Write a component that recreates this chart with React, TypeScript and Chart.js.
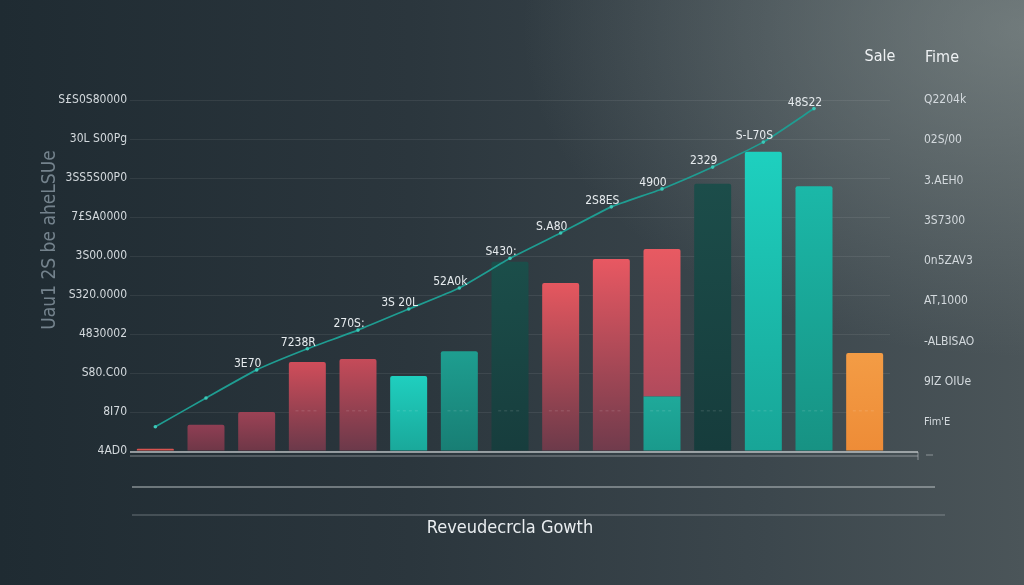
import { useEffect, useRef } from "react";
import { Chart, registerables } from "chart.js";

Chart.register(...registerables);

const categories = ["P1", "P2", "P3", "P4", "P5", "P6", "P7", "P8", "P9", "P10", "P11", "P12", "P13", "P14", "P15"];
const saleValues = [0.06, 0.67, 1.0, 2.28, 2.36, 1.92, 2.56, 4.85, 4.31, 4.92, 1.4, 6.85, 7.67, 6.79, 2.51];
const saleUpperValues = [null, null, null, null, null, null, null, null, null, null, 3.78, null, null, null, null];
const trendValues = [0.62, 1.36, 2.08, 2.62, 3.1, 3.64, 4.18, 4.94, 5.59, 6.26, 6.72, 7.28, 7.92, 8.78, null];
const trendLabels = ["", "", "3E70", "7238R", "270S:", "3S 20L", "52A0k", "S430:", "S.A80", "2S8ES", "4900", "2329", "S-L70S", "48S22", ""];
const leftTickLabels = ["4AD0", "8I70", "S80.C00", "4830002", "S320.0000", "3S00.000", "7£SA0000", "3SS5S00P0", "30L S00Pg", "S£S0S80000"];
const rightTickLabels = ["Q2204k", "02S/00", "3.AEH0", "3S7300", "0n5ZAV3", "AT,1000", "-ALBISAO", "9IZ OIUe", "Fim'E"];
const legendLabels = ["Sale", "Fime"];
const chartTitle = "Reveudecrcla Gowth";
const axisTitle = "Uau1 2S be aheLSUe";

const barTopColors = ["#d9534f", "#8f3e53", "#9c4255", "#d04d5a", "#c54b59", "#1fcfbf", "#1e9e90", "#1b4e4a", "#e5575f", "#e85862", "#1fa99a", "#1c4d4a", "#1ed0bf", "#1bb8a8", "#f39c45"];
const barBottomColors = ["#d9534f", "#6e3747", "#6e3747", "#6b394a", "#6b394a", "#1aa89a", "#187e74", "#173d3d", "#6c3a4a", "#703b4c", "#1a9a8c", "#163c3c", "#18a597", "#179283", "#ee8c37"];
const upperTopColor = "#e85a62";
const upperBottomColor = "#b04a5c";

const FONT = "'Liberation Sans Narrow', 'DejaVu Sans Condensed', Roboto, sans-serif";

function barGradient(ctx: any, top: string, bottom: string, from: number, to: number) {
  const chart = ctx.chart;
  const y = chart.scales && chart.scales.y;
  if (!chart.chartArea || !y) return top;
  const y1 = y.getPixelForValue(to);
  const y0 = y.getPixelForValue(from);
  if (!isFinite(y1) || !isFinite(y0) || Math.abs(y0 - y1) < 1) return top;
  const g = chart.ctx.createLinearGradient(0, y1, 0, y0);
  g.addColorStop(0, top);
  g.addColorStop(1, bottom);
  return g;
}

const decorPlugin = {
  id: "decor",
  afterDatasetsDraw(chart: any) {
    const { ctx, scales } = chart;
    const y = scales.y;
    const dashY = y.getPixelForValue(1.03);
    ctx.save();
    ctx.strokeStyle = "rgba(255,255,255,0.15)";
    ctx.lineWidth = 1;
    ctx.setLineDash([3, 3]);
    const barMeta = chart.getDatasetMeta(1);
    barMeta.data.forEach((bar: any, i: number) => {
      const total = saleValues[i] + (saleUpperValues[i] || 0);
      if (total < 1.5) return;
      ctx.beginPath();
      ctx.moveTo(bar.x - bar.width * 0.32, dashY);
      ctx.lineTo(bar.x + bar.width * 0.32, dashY);
      ctx.stroke();
    });
    ctx.restore();

    const lineMeta = chart.getDatasetMeta(0);
    ctx.save();
    ctx.fillStyle = "#e6ebee";
    ctx.font = "12px " + FONT;
    ctx.textAlign = "center";
    ctx.textBaseline = "middle";
    lineMeta.data.forEach((pt: any, i: number) => {
      const t = trendLabels[i];
      if (!t || trendValues[i] == null) return;
      ctx.fillText(t, pt.x - 9, pt.y - 6);
    });
    ctx.restore();
  },
  afterDraw(chart: any) {
    const { ctx, scales, chartArea } = chart;
    const base = scales.y.getPixelForValue(0);
    const left = chartArea.left;
    ctx.save();
    ctx.strokeStyle = "rgba(215,220,223,0.8)";
    ctx.lineWidth = 1.5;
    ctx.beginPath();
    ctx.moveTo(left, base + 1);
    ctx.lineTo(left + 788, base + 1);
    ctx.stroke();
    ctx.strokeStyle = "rgba(200,206,210,0.55)";
    ctx.lineWidth = 1;
    ctx.beginPath();
    ctx.moveTo(left, base + 5);
    ctx.lineTo(left + 788, base + 5);
    ctx.moveTo(left + 788, base + 1);
    ctx.lineTo(left + 788, base + 9);
    ctx.moveTo(left + 796, base + 4);
    ctx.lineTo(left + 803, base + 4);
    ctx.stroke();
    ctx.strokeStyle = "rgba(200,206,210,0.6)";
    ctx.lineWidth = 1.5;
    ctx.beginPath();
    ctx.moveTo(left + 2, base + 36);
    ctx.lineTo(left + 805, base + 36);
    ctx.stroke();
    ctx.strokeStyle = "rgba(200,206,210,0.42)";
    ctx.lineWidth = 1.2;
    ctx.beginPath();
    ctx.moveTo(left + 2, base + 64);
    ctx.lineTo(left + 815, base + 64);
    ctx.stroke();

    ctx.fillStyle = "#eef1f3";
    ctx.font = "16px " + FONT;
    ctx.textAlign = "center";
    ctx.textBaseline = "middle";
    ctx.fillText(legendLabels[0], 880, 57);
    ctx.fillText(legendLabels[1], 942, 58);

    ctx.translate(50, 240);
    ctx.rotate(-Math.PI / 2);
    ctx.fillStyle = "rgba(130,146,156,0.85)";
    ctx.font = "19px " + FONT;
    ctx.fillText(axisTitle, 0, 0);
    ctx.restore();
  },
};

export default function App() {
  const ref = useRef<HTMLCanvasElement | null>(null);

  useEffect(() => {
    if (!ref.current) return;
    const chart = new Chart(ref.current, {
      data: {
        labels: categories,
        datasets: [
          {
            type: "line",
            label: legendLabels[1],
            data: trendValues,
            borderColor: "#1f9d92",
            borderWidth: 1.7,
            tension: 0.15,
            pointRadius: 1.8,
            pointBackgroundColor: "#3cc8b8",
            pointBorderWidth: 0,
            order: 0,
            yAxisID: "y",
          } as any,
          {
            type: "bar",
            label: legendLabels[0],
            data: saleValues,
            backgroundColor: (c: any) => {
              if (c.type !== "data") return barTopColors[0];
              const i = c.dataIndex;
              return barGradient(c, barTopColors[i], barBottomColors[i], 0, saleValues[i]);
            },
            borderRadius: 2,
            borderSkipped: "start",
            barPercentage: 0.73,
            categoryPercentage: 1,
            order: 1,
            yAxisID: "y",
          } as any,
          {
            type: "bar",
            label: legendLabels[0] + " +",
            data: saleUpperValues,
            backgroundColor: (c: any) => {
              if (c.type !== "data") return upperTopColor;
              const i = c.dataIndex;
              const b = saleValues[i];
              return barGradient(c, upperTopColor, upperBottomColor, b, b + (saleUpperValues[i] || 0));
            },
            borderRadius: 2,
            borderSkipped: "start",
            barPercentage: 0.73,
            categoryPercentage: 1,
            order: 1,
            yAxisID: "y",
          } as any,
        ],
      },
      options: {
        animation: false,
        responsive: true,
        maintainAspectRatio: false,
        layout: { padding: { top: 100, left: 0, right: 0, bottom: 0 } },
        plugins: {
          legend: { display: false },
          tooltip: { enabled: false },
        },
        scales: {
          x: {
            stacked: true,
            grid: { display: false },
            border: { display: false },
            ticks: { display: false },
            title: {
              display: true,
              text: chartTitle,
              color: "#e9edf0",
              font: { family: FONT, size: 18 },
              padding: { top: 0, bottom: 46 },
            },
            afterFit: (s: any) => {
              s.height = 134;
            },
          },
          y: {
            stacked: true,
            position: "left",
            min: 0,
            max: 9,
            grid: { color: "rgba(255,255,255,0.075)", drawTicks: false },
            border: { display: false },
            ticks: {
              stepSize: 1,
              padding: 3,
              color: "#d3d9dd",
              font: { family: FONT, size: 12 },
              callback: (v: any) => leftTickLabels[v] ?? "",
            },
            afterFit: (s: any) => {
              s.width = 130;
            },
          },
          y2: {
            position: "right",
            reverse: true,
            min: 0,
            max: 8.72,
            grid: { display: false, drawTicks: false },
            border: { display: false },
            ticks: {
              stepSize: 1,
              padding: 34,
              color: "#d3d9dd",
              font: (c: any) => ({ family: FONT, size: c.tick && c.tick.value === 8 ? 11 : 12 }),
              callback: (v: any) => rightTickLabels[v] ?? "",
            },
            afterFit: (s: any) => {
              s.width = 134;
            },
          },
        },
      } as any,
      plugins: [decorPlugin],
    });
    return () => chart.destroy();
  }, []);

  return (
    <div
      style={{
        position: "fixed",
        left: 0,
        top: 0,
        width: 1024,
        height: 585,
        background:
          "radial-gradient(ellipse 70% 80% at 100% 5%, rgba(150,160,158,0.5), rgba(150,160,158,0) 70%), linear-gradient(90deg, #1f2b32 0%, #2b363d 40%, #3c474d 75%, #4b5559 100%)",
      }}
    >
      <canvas ref={ref} />
    </div>
  );
}
